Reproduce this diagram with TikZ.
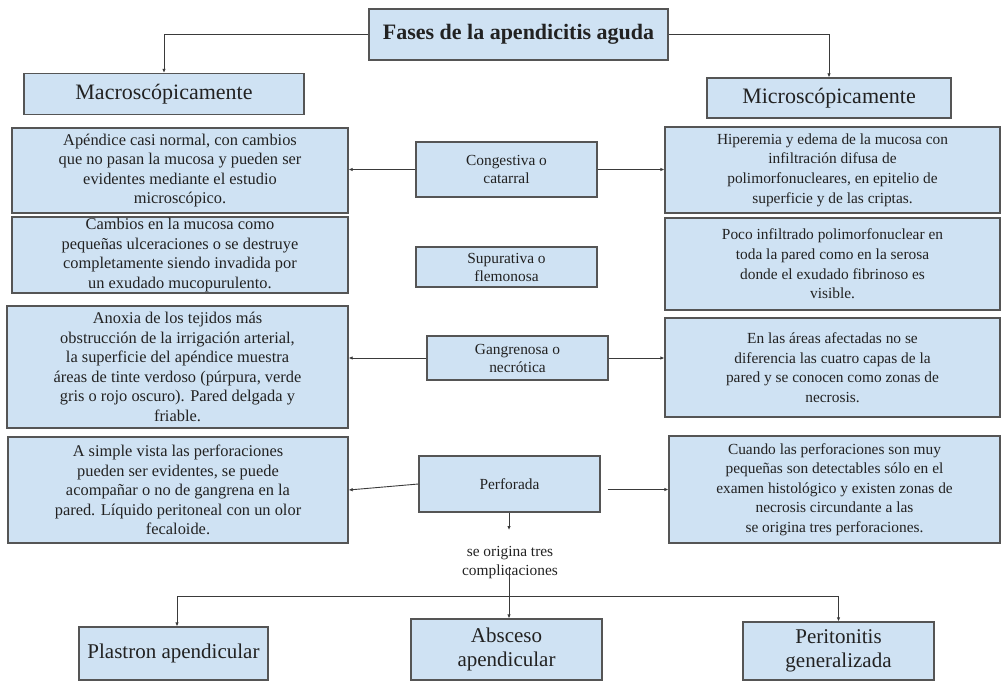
\documentclass[tikz,border=0pt]{standalone}
\usepackage{fontspec}
\setmainfont{Liberation Serif}
\usetikzlibrary{arrows.meta}
\definecolor{boxfill}{HTML}{CFE2F3}
\definecolor{boxline}{HTML}{555555}
\definecolor{wire}{HTML}{3A3A3A}
\definecolor{ink}{HTML}{222222}
\begin{document}
\begin{tikzpicture}[x=1pt,y=-1pt,
  box/.style={draw=boxline, fill=boxfill, line width=1.3pt, inner sep=0pt,
    align=center, text=ink},
  bodyL/.style={box, font=\fontsize{16.4}{19.6}\selectfont},
  bodyR/.style={box, font=\fontsize{15.4}{19.6}\selectfont},
  phase/.style={box, font=\fontsize{15.4}{18}\selectfont},
  head/.style={box, font=\fontsize{22}{26}\selectfont},
  leaf/.style={box, font=\fontsize{21}{24}\selectfont},
  wirestyle/.style={draw=wire, line width=0.9pt},
  arr/.style={wirestyle, -{Latex[length=4pt,width=3.5pt]}}
]
\useasboundingbox (0,0) rectangle (1001,682);

% title and the two branches
\node[head, font=\bfseries\fontsize{22}{26}\selectfont, minimum width=299pt, minimum height=51pt]
  (title) at (518.5,34.5) {Fases de la apendicitis aguda};
\node[head, minimum width=280pt, minimum height=41pt] (macro) at (164,94) {Macroscópicamente};
\node[head, minimum width=244pt, minimum height=40pt] (micro) at (829,98) {Microscópicamente};

% macroscopic descriptions
\node[bodyL, minimum width=336pt, minimum height=85pt] (L1) at (180,170.5)
  {\raisebox{0pt}[\height][\depth]{}Apéndice casi normal, con cambios\\que no pasan la mucosa y pueden ser\\evidentes mediante el estudio\\microscópico.};
\node[bodyL, minimum width=336pt, minimum height=76pt] (L2) at (180,255)
  {Cambios en la mucosa como\\pequeñas ulceraciones o se destruye\\completamente siendo invadida por\\un exudado mucopurulento.};
\node[bodyL, minimum width=341pt, minimum height=122pt] (L3) at (177.5,367)
  {Anoxia de los tejidos más\\obstrucción de la irrigación arterial,\\la superficie del apéndice muestra\\áreas de tinte verdoso (púrpura, verde\\gris o rojo oscuro). Pared delgada y\\friable.};
\node[bodyL, minimum width=340pt, minimum height=106pt] (L4) at (178,490)
  {A simple vista las perforaciones\\pueden ser evidentes, se puede\\acompañar o no de gangrena en la\\pared. Líquido peritoneal con un olor\\fecaloide.};

% phases
\node[phase, minimum width=181pt, minimum height=55pt] (C1) at (506.5,169.5) {Congestiva o\\catarral};
\node[phase, minimum width=181pt, minimum height=40pt] (C2) at (506.5,267) {Supurativa o\\flemonosa};
\node[phase, minimum width=181pt, minimum height=44pt] (C3) at (517.5,358) {Gangrenosa o\\necrótica};
\node[phase, minimum width=181pt, minimum height=56pt] (C4) at (509.5,484) {Perforada};

% microscopic descriptions
\node[bodyR, minimum width=335pt, minimum height=86pt] (R1) at (832.5,170)
  {Hiperemia y edema de la mucosa con\\infiltración difusa de\\polimorfonucleares, en epitelio de\\superficie y de las criptas.};
\node[bodyR, minimum width=335pt, minimum height=92pt] (R2) at (832.5,264)
  {Poco infiltrado polimorfonuclear en\\toda la pared como en la serosa\\donde el exudado fibrinoso es\\visible.};
\node[bodyR, minimum width=335pt, minimum height=99pt] (R3) at (832.5,367.5)
  {En las áreas afectadas no se\\diferencia las cuatro capas de la\\pared y se conocen como zonas de\\necrosis.};
\node[bodyR, minimum width=331pt, minimum height=107pt] (R4) at (834.5,489.5)
  {Cuando las perforaciones son muy\\pequeñas son detectables sólo en el\\examen histológico y existen zonas de\\necrosis circundante a las\\se origina tres perforaciones.};

% complications
\node[text=ink, align=center, inner sep=0pt, font=\fontsize{15.4}{19}\selectfont] (note) at (510,563)
  {se origina tres\\complicaciones};
\node[leaf, minimum width=189pt, minimum height=53pt] (plas) at (173.5,653.5) {Plastron apendicular};
\node[leaf, minimum width=191pt, minimum height=61pt] (absc) at (506.5,649.5) {Absceso\\apendicular};
\node[leaf, minimum width=191pt, minimum height=58pt] (peri) at (838.5,651) {Peritonitis\\generalizada};

\coordinate (ptip) at (509,530);
\coordinate (stem) at (509,567);
\coordinate (fork) at (509,596);

% connectors
\draw[arr] (title.west) -| (macro.north);
\draw[arr] (title.east) -| (micro.north);
\draw[arr] (C1.west) -- (L1.east |- C1.west);
\draw[arr] (C1.east) -- (R1.west |- C1.east);
\draw[arr] (C3.west) -- (L3.east |- C3.west);
\draw[arr] (C3.east) -- (R3.west |- C3.east);
\draw[arr] (C4.west) -- (L4.east);
\draw[arr, shorten <=7pt] (C4.east |- R4.west) -- (R4.west);
\draw[arr] (C4.south -| ptip) -- (ptip);
\draw[arr] (stem) -- (absc.north -| stem);
\draw[arr] (fork) -| ([xshift=3.5pt]plas.north);
\draw[arr] (fork) -| (peri.north);
\end{tikzpicture}
\end{document}
